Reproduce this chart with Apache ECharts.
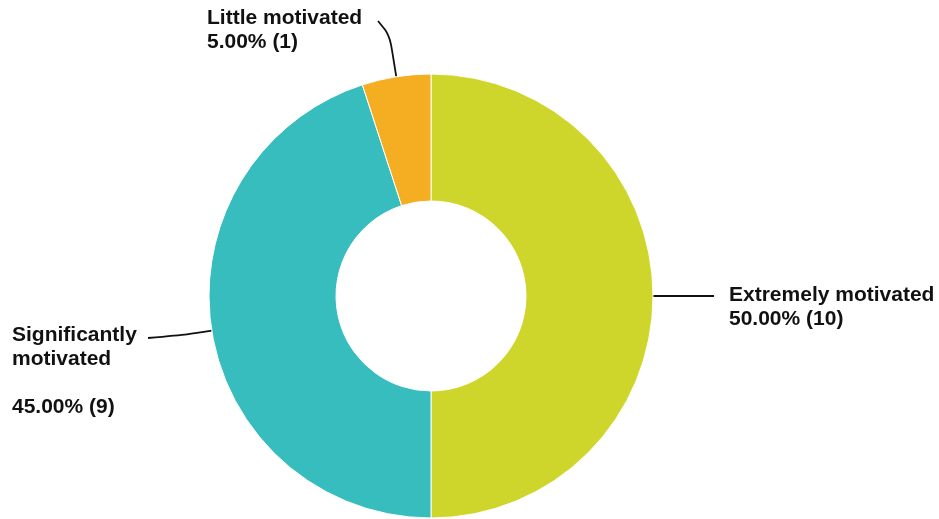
<!DOCTYPE html>
<html>
<head>
<meta charset="utf-8">
<script src="https://cdn.jsdelivr.net/npm/echarts@6/dist/echarts.min.js"></script>
<style>
html,body{margin:0;padding:0;background:#fff;}
#chart1{width:939px;height:519px;}
</style>
</head>
<body>
<div id="chart1"></div>
<script>
var names = ['Extremely motivated', 'Significantly motivated', 'Little motivated'];
var values = [10, 9, 1];
var labelText = ['Extremely motivated\n50.00% (10)', 'Significantly\nmotivated\n\n45.00% (9)', 'Little motivated\n5.00% (1)'];
var colors = ['#ced52b', '#38bdbf', '#f5ae22'];

// label placement (left x, top y) and where each label line ends
var labelPos = [[729, 283], [12, 323], [207, 6]];
var lineEnd = [[714, 0], [148, 338], [378, 21]];
var lineLen = [25, 25, 42];
var cx = 431, cy = 296, rOut = 222;

var data = [];
for (var i = 0; i < names.length; i++) {
	data.push({value: values[i], name: names[i], itemStyle: {color: colors[i]}});
}

var option = {
	animation: false,
	series: [{
		type: 'pie',
		radius: [95, rOut],
		center: [cx, cy],
		startAngle: 90,
		clockwise: true,
		data: data,
		itemStyle: {
			borderColor: '#fff',
			borderWidth: 1
		},
		label: {
			color: '#111',
			fontFamily: "'Liberation Sans', Arial, sans-serif",
			fontWeight: 'bold',
			fontSize: 21,
			lineHeight: 24,
			formatter: function (p) { return labelText[p.dataIndex]; }
		},
		labelLine: {
			show: true,
			smooth: 0.3,
			lineStyle: {color: '#111', width: 1.8}
		},
		labelLayout: function (p) {
			var i = p.dataIndex;
			var pos = labelPos[i];
			var p0 = p.labelLinePoints[0];
			var dx = p0[0] - cx, dy = p0[1] - cy;
			var d = Math.sqrt(dx * dx + dy * dy);
			var k = (d + lineLen[i]) / d;
			var p1 = [cx + dx * k, cy + dy * k];
			var end = lineEnd[i].slice();
			if (i === 0) end[1] = p0[1];
			return {
				x: pos[0], y: pos[1], align: 'left', verticalAlign: 'top',
				labelLinePoints: [p0, p1, end]
			};
		}
	}]
};
var chart1 = echarts.init(document.getElementById('chart1'));
chart1.setOption(option);
</script>
</body>
</html>
